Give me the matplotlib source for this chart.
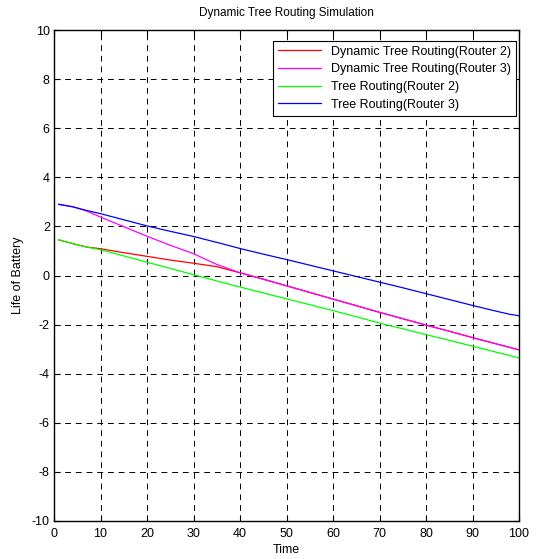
import matplotlib
matplotlib.use("Agg")
import matplotlib.pyplot as plt

plt.rcParams['font.family'] = ['Liberation Sans', 'DejaVu Sans']
plt.rcParams['axes.unicode_minus'] = False

# sample positions (Time)
time_pts = [1, 4, 7, 10, 15, 20, 25, 30, 35, 40, 45, 50, 55, 60, 65, 70, 75, 80, 85, 90, 95, 98, 100]

# Life of Battery readings
dyn_router2 = [1.45, 1.30, 1.16, 1.09, 0.93, 0.78, 0.63, 0.50, 0.36, 0.11, -0.15, -0.42, -0.69, -0.96,
               -1.23, -1.50, -1.76, -2.02, -2.27, -2.53, -2.78, -2.93, -3.03]
dyn_router3 = [2.90, 2.80, 2.63, 2.38, 1.99, 1.60, 1.23, 0.89, 0.45, 0.11, -0.15, -0.42, -0.69, -0.96,
               -1.23, -1.50, -1.76, -2.02, -2.27, -2.53, -2.78, -2.93, -3.03]
tree_router2 = [1.46, 1.30, 1.16, 1.05, 0.80, 0.54, 0.29, 0.03, -0.22, -0.47, -0.71, -0.95, -1.19, -1.43,
                -1.68, -1.94, -2.17, -2.41, -2.64, -2.88, -3.12, -3.26, -3.36]
tree_router3 = [2.90, 2.80, 2.65, 2.52, 2.27, 2.02, 1.80, 1.59, 1.35, 1.10, 0.87, 0.65, 0.42, 0.19,
                -0.04, -0.27, -0.50, -0.74, -0.98, -1.22, -1.45, -1.58, -1.64]

labels = ['Dynamic Tree Routing(Router 2)', 'Dynamic Tree Routing(Router 3)',
          'Tree Routing(Router 2)', 'Tree Routing(Router 3)']
colors = ['#ff0000', '#ff00ff', '#00ff00', '#0000ff']
x_ticks = list(range(0, 101, 10))
y_ticks = list(range(-10, 11, 2))

fig = plt.figure(figsize=(5.39, 5.59), dpi=100)
ax = fig.add_axes([0.1002, 0.068, 0.8628, 0.8783])

for series, lab, col in zip([dyn_router2, dyn_router3, tree_router2, tree_router3], labels, colors):
    ax.plot(time_pts, series, color=col, linewidth=0.9, label=lab)

ax.set_xlim(0, 100)
ax.set_ylim(-10, 10)
ax.set_xticks(x_ticks)
ax.set_yticks(y_ticks)
ax.grid(True, color='black', linestyle=(0, (6, 5)), linewidth=0.7)
ax.tick_params(direction='in', top=True, right=True, labelsize=9, length=4, width=0.8, pad=3)
ax.tick_params(axis='x', pad=5)
for sp in ax.spines.values():
    sp.set_linewidth(1.0)

ax.set_title('Dynamic Tree Routing Simulation', fontsize=8.5, pad=10)
ax.set_xlabel('Time', fontsize=9, labelpad=3)
ax.set_ylabel('Life of Battery', fontsize=9, labelpad=6)

leg = ax.legend(loc='upper right', bbox_to_anchor=(0.994, 0.978), borderaxespad=0,
                fontsize=9, fancybox=False, framealpha=1, edgecolor='black',
                handlelength=3.5, labelspacing=0.45, borderpad=0.4)
leg.get_frame().set_linewidth(0.8)

fig.savefig('out.png', dpi=100)
